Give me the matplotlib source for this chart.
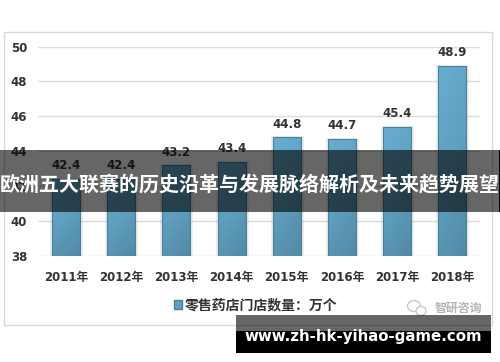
import numpy as np
from matplotlib import pyplot as plt
from matplotlib.colors import LinearSegmentedColormap
from matplotlib.patches import Rectangle, Ellipse

years = ["2011年", "2012年", "2013年", "2014年", "2015年", "2016年", "2017年", "2018年"]
stores = [42.4, 42.4, 43.2, 43.4, 44.8, 44.7, 45.4, 48.9]
y_ticks = [38, 40, 42, 44, 46, 48, 50]
legend_label = "零售药店门店数量：万个"
banner_title = "欧洲五大联赛的历史沿革与发展脉络解析及未来趋势展望"
site_url = "www.zh-hk-yihao-game.com"
watermark = "智研咨询"

W, H = 500, 362
plt.rcParams["font.family"] = ["DejaVu Sans", "Noto Sans CJK SC"]
plt.rcParams["font.weight"] = "bold"
text_col = "#333333"


def px_rect(x0, y0, x1, y1, **kw):
    # pixel coords, y counted from the top of the picture
    return Rectangle((x0 / W, 1 - y1 / H), (x1 - x0) / W, (y1 - y0) / H,
                     transform=fig.transFigure, **kw)


fig = plt.figure(figsize=(W / 100, H / 100), dpi=100, facecolor="white")

# outer chart frame
fig.add_artist(px_rect(3.5, 32, 492, 325, facecolor="white", edgecolor="#d9d9d9", linewidth=1, zorder=-1))

ax = fig.add_axes([38.4 / W, 1 - 256 / H, 441.6 / W, 209.5 / H], facecolor="none")
x = np.arange(len(years))

# soft shadow, then the bar itself with a diagonal gradient
ax.bar(x, stores, width=0.54, color="none", edgecolor="#000000", alpha=0.08, linewidth=2.0, zorder=2)
bars = ax.bar(x, stores, width=0.51, color="#5f9fc0", edgecolor="#4d7f96", linewidth=0.8, zorder=3)
bar_cmap = LinearSegmentedColormap.from_list("bar", ["#528aa5", "#5f9fbf", "#68aed0"])
gy, gx = np.mgrid[0:1:40j, 0:1:12j]
grad = np.clip(0.75 * (1 - gy) + 0.25 * (1 - gx), 0, 1)
for rect in bars:
    im = ax.imshow(grad, extent=(rect.get_x(), rect.get_x() + rect.get_width(), 38, rect.get_height()),
                   origin="upper", cmap=bar_cmap, vmin=0, vmax=1, aspect="auto", zorder=2.5)
    im.set_clip_path(rect)
    rect.set_facecolor("none")
ax.set_xlim(-0.5, len(years) - 0.5)
ax.set_ylim(38, 50)

for xi, v in zip(x, stores):
    ax.annotate(f"{v:.1f}", (xi, v), xytext=(0, 9.5), textcoords="offset points",
                ha="center", va="center", fontsize=8.5, color=text_col, zorder=4)

ax.set_xticks(x, years)
ax.set_yticks(y_ticks)
ax.tick_params(axis="both", length=0, labelsize=8.5, labelcolor=text_col)
ax.tick_params(axis="x", pad=10.5)
ax.tick_params(axis="y", pad=8)
ax.grid(axis="y", color="#dcdcdc", linewidth=1)
ax.set_axisbelow(True)
for s in ax.spines.values():
    s.set_visible(False)

leg = fig.legend(handles=[Rectangle((0, 0), 1, 1, facecolor="#5f9fc0", edgecolor="#4d7f96")],
                 labels=[legend_label], loc="center", bbox_to_anchor=(255.5 / W, 1 - 305 / H),
                 frameon=False, fontsize=10, handlelength=0.6, handleheight=0.6, handletextpad=0.2,
                 labelcolor=text_col)

# watermark in the corner
fig.text(458 / W, 1 - 308 / H, watermark, fontsize=8.6, color="#b5b5b5", ha="center", va="center")
for cx, cy, w, h in [(414, 306, 13, 11), (421, 311, 10, 9)]:
    fig.add_artist(Ellipse((cx / W, 1 - cy / H), w / W, h / H, transform=fig.transFigure,
                           facecolor="white", edgecolor="#c4c4c4", linewidth=0.9))

# overlay banners
fig.add_artist(px_rect(0, 150, 500, 212, facecolor="black", alpha=0.6, edgecolor="none", zorder=5))
fig.add_artist(px_rect(498.8, 150, 500, 212, facecolor="black", edgecolor="none", zorder=5))
fig.text(250 / W, 1 - 185 / H, banner_title, fontsize=14.4, color="white", ha="center", va="center",
         family=["Noto Sans CJK SC", "DejaVu Sans"], zorder=6)

fig.add_artist(px_rect(236, 315, 491, 331, facecolor="black", alpha=0.6, edgecolor="none", zorder=5))
fig.add_artist(px_rect(236, 331, 491, 353, facecolor="black", edgecolor="none", zorder=5))
fig.text(363.5 / W, 1 - 337 / H, site_url, fontsize=10.8, color="white", ha="center", va="center", zorder=6)

fig.savefig("out.png", dpi=100)
